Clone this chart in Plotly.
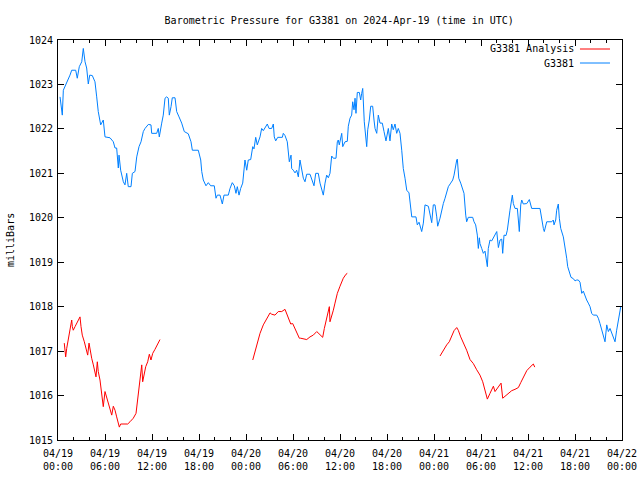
import pandas as pd
import plotly.graph_objects as go

# ---- data (hours after 2024-04-19 00:00 UTC, pressure in mb) ----
obs_hours = [0.26, 0.55, 0.68, 0.89, 1.24, 1.53, 1.75, 2.26, 2.46, 2.72, 3.03, 3.23, 3.45, 3.66, 3.87, 4.05,
             4.38, 4.72, 4.94, 5.14, 5.45, 5.66, 5.78, 6.0, 6.64, 7.06, 7.28, 7.49, 7.70, 7.79, 8.0, 8.34,
             8.55, 8.77, 8.97, 9.32, 9.49, 9.83, 10.05, 10.34, 10.60, 10.89, 11.11, 11.53, 11.87, 11.96,
             12.60, 12.80, 12.93, 13.24, 13.44, 13.66, 13.87, 14.08, 14.21, 14.43, 14.59, 14.94, 15.15,
             15.45, 15.79, 16.12, 16.63, 16.98, 17.15, 17.91, 18.22, 18.35, 18.55, 18.89, 19.19, 19.49,
             19.95, 20.17, 20.34, 20.68, 20.98, 21.19, 21.74, 21.96, 22.25, 22.51, 22.72, 22.89, 23.11,
             23.32, 23.58, 23.87, 24.09, 24.29, 24.60, 24.86, 25.02, 25.24, 25.44, 25.79, 26.0, 26.21,
             26.55, 26.72, 26.94, 27.28, 27.49, 27.61, 27.79, 28.05, 28.34, 28.64, 28.76, 28.98, 29.27,
             29.53, 29.75, 29.83, 30.04, 30.26, 30.47, 30.68, 30.89, 31.11, 31.32, 31.53, 31.75, 32.17,
             32.39, 32.68, 32.90, 33.23, 33.45, 33.66, 33.87, 34.09, 34.30, 34.51, 34.72, 34.94, 35.15,
             35.49, 35.66, 35.78, 35.91, 36.22, 36.35, 36.64, 36.93, 37.06, 37.28, 37.49, 37.62, 37.79,
             37.92, 38.04, 38.21, 38.47, 38.64, 38.77, 38.90, 39.10, 39.28, 39.41, 39.54, 39.74, 39.92,
             40.17, 40.34, 40.47, 40.69, 40.89, 41.11, 41.40, 41.62, 41.87, 42.17, 42.38, 42.60, 42.80,
             43.02, 43.24, 43.44, 43.66, 43.88, 44.08, 44.30, 44.52, 44.81, 45.03, 45.16, 45.70, 45.87,
             46.09, 46.21, 46.43, 46.64, 46.85, 47.28, 47.49, 47.71, 47.91, 48.13, 48.35, 48.47, 48.77,
             48.98, 49.19, 49.41, 49.62, 49.83, 50.13, 50.39, 50.56, 50.72, 50.90, 50.98, 51.16, 51.41,
             51.61, 51.83, 52.05, 52.17, 52.38, 52.94, 53.11, 53.32, 53.53, 53.66, 53.79, 53.87, 54.09,
             54.30, 54.51, 54.64, 54.81, 54.93, 55.15, 55.37, 55.58, 55.79, 56.01, 56.22, 56.43, 56.65,
             56.77, 56.94, 57.19, 57.36, 57.58, 57.70, 58.00, 58.13, 58.34, 58.64, 58.77, 58.89, 59.07,
             59.20, 59.40, 59.84, 60.17, 60.47, 61.53, 61.75, 61.96, 62.08, 62.39, 63.03, 63.23, 63.32,
             63.54, 63.66, 63.87, 64.00, 64.18, 64.51, 64.73, 64.94, 65.07, 65.28, 65.49, 65.79, 66.00,
             66.22, 66.42, 66.64, 66.86, 67.06, 67.28, 67.49, 67.70, 67.92, 68.13, 68.34, 68.77, 68.98,
             69.19, 69.41, 69.62, 69.83, 70.05, 70.26, 70.47, 70.68, 70.90, 71.11, 71.32, 71.53, 71.75, 71.84]
obs_mb = [1022.72, 1022.31, 1022.87, 1022.95, 1023.12, 1023.21, 1023.32, 1023.32, 1023.14, 1023.40, 1023.51,
          1023.81, 1023.51, 1023.37, 1023.01, 1023.21, 1023.20, 1023.06, 1022.72, 1022.39, 1022.09, 1022.15,
          1022.20, 1021.82, 1021.80, 1021.71, 1021.57, 1021.57, 1021.12, 1021.41, 1021.07, 1020.81, 1020.74,
          1021.0, 1020.70, 1020.70, 1021.0, 1021.04, 1021.37, 1021.60, 1021.71, 1021.94, 1022.01, 1022.10,
          1022.09, 1021.90, 1021.90, 1022.01, 1021.82, 1022.13, 1022.31, 1022.69, 1022.72, 1022.69, 1022.31,
          1022.50, 1022.70, 1022.70, 1022.39, 1022.27, 1022.13, 1021.94, 1021.89, 1021.71, 1021.52, 1021.52,
          1021.30, 1021.04, 1020.85, 1020.72, 1020.79, 1020.72, 1020.72, 1020.44, 1020.51, 1020.51, 1020.31,
          1020.51, 1020.51, 1020.66, 1020.79, 1020.72, 1020.55, 1020.70, 1020.51, 1020.66, 1020.78, 1021.30,
          1021.07, 1021.30, 1021.31, 1021.60, 1021.55, 1021.81, 1021.64, 1021.82, 1022.01, 1021.96, 1022.05,
          1022.11, 1022.01, 1022.01, 1022.11, 1021.82, 1021.73, 1021.81, 1021.81, 1021.81, 1021.90, 1021.85,
          1021.71, 1021.26, 1021.41, 1021.11, 1021.07, 1021.01, 1021.07, 1020.92, 1021.30, 1021.07, 1020.89,
          1020.81, 1020.98, 1020.98, 1020.85, 1020.72, 1021.00, 1021.00, 1020.78, 1020.66, 1020.51, 1020.78,
          1020.96, 1020.90, 1021.00, 1021.39, 1021.34, 1021.34, 1021.71, 1021.75, 1021.64, 1021.90, 1021.60,
          1021.71, 1021.72, 1022.06, 1022.24, 1022.31, 1022.61, 1022.43, 1022.69, 1022.35, 1022.82, 1022.82,
          1022.65, 1022.80, 1022.91, 1022.16, 1021.79, 1021.60, 1021.98, 1022.20, 1022.51, 1022.51, 1022.20,
          1022.01, 1021.90, 1022.31, 1022.13, 1022.13, 1021.94, 1021.73, 1022.01, 1021.73, 1022.11, 1021.98,
          1022.11, 1021.90, 1022.01, 1021.90, 1021.52, 1021.11, 1020.89, 1020.62, 1020.56, 1020.14, 1020.02,
          1020.02, 1019.84, 1019.90, 1019.80, 1019.69, 1019.88, 1020.29, 1020.26, 1020.10, 1019.89, 1020.29,
          1020.29, 1020.02, 1019.81, 1019.99, 1020.17, 1020.32, 1020.44, 1020.55, 1020.70, 1020.78, 1020.85,
          1020.96, 1021.15, 1021.30, 1021.32, 1020.89, 1020.78, 1020.66, 1020.55, 1020.06, 1019.91, 1020.01,
          1020.01, 1019.91, 1019.84, 1019.61, 1019.31, 1019.55, 1019.42, 1019.31, 1019.20, 1019.25, 1019.09,
          1018.90, 1019.31, 1019.50, 1019.48, 1019.54, 1019.61, 1019.69, 1019.33, 1019.50, 1019.52, 1019.20,
          1019.61, 1019.60, 1019.72, 1019.95, 1020.17, 1020.51, 1020.32, 1020.21, 1020.21, 1019.95, 1019.69,
          1020.29, 1020.40, 1020.31, 1020.32, 1020.41, 1020.21, 1020.21, 1019.95, 1019.76, 1019.69, 1019.91,
          1019.91, 1019.95, 1019.84, 1019.95, 1020.17, 1020.31, 1019.99, 1019.76, 1019.57, 1019.35, 1019.09,
          1018.90, 1018.75, 1018.66, 1018.63, 1018.58, 1018.60, 1018.60, 1018.55, 1018.30, 1018.35, 1018.22,
          1018.15, 1018.08, 1018.00, 1017.85, 1017.81, 1017.81, 1017.74, 1017.62, 1017.47, 1017.32, 1017.21,
          1017.59, 1017.44, 1017.51, 1017.40, 1017.29, 1017.21, 1017.47, 1017.66, 1017.92, 1018.00]

ana_hours = [0.80, 0.98, 1.11, 1.24, 1.40, 1.53, 1.75, 1.83, 1.95, 2.17, 2.39, 2.59, 2.81, 2.94, 3.10, 3.36,
             3.57, 3.79, 3.96, 4.09, 4.30, 4.51, 4.72, 4.85, 5.02, 5.14, 5.36, 5.58, 5.78, 6.00, 6.22, 6.42,
             6.64, 6.86, 7.06, 7.28, 7.49, 7.70, 7.83, 8.00, 8.90, 9.19, 9.61, 9.96, 10.17, 10.38, 10.56,
             10.69, 10.81, 10.98, 11.20, 11.45, 11.66, 11.87, 12.09, 12.38, 12.73, 13.02, 18.0,
             24.86, 25.15, 25.44, 25.79, 26.21, 26.64, 27.07, 27.28, 27.70, 28.12, 28.56, 28.98, 29.20,
             29.40, 29.71, 29.96, 30.26, 30.55, 30.81, 30.98, 31.32, 31.75, 32.17, 32.59, 33.03, 33.45,
             33.79, 34.00, 34.21, 34.51, 34.64, 34.72, 34.94, 35.15, 35.36, 35.66, 36.00, 36.42, 36.77, 36.93,
             42.0,
             48.77, 49.19, 49.62, 49.95, 50.26, 50.56, 50.90, 51.10, 51.41, 51.74, 52.17, 52.60, 53.02,
             53.45, 53.87, 54.22, 54.51, 54.81, 55.15, 55.49, 55.58, 55.79, 56.01, 56.22, 56.56, 56.77,
             57.07, 57.49, 57.92, 58.34, 58.77, 59.07, 59.40, 59.84, 60.26, 60.68, 60.86]
ana_mb = [1017.18, 1016.87, 1017.06, 1017.21, 1017.40, 1017.51, 1017.70, 1017.55, 1017.47, 1017.55, 1017.62,
          1017.70, 1017.77, 1017.55, 1017.36, 1017.21, 1017.06, 1016.91, 1017.18, 1017.02, 1016.84, 1016.69,
          1016.54, 1016.42, 1016.76, 1016.54, 1016.35, 1015.97, 1015.75, 1016.09, 1015.94, 1015.82, 1015.67,
          1015.56, 1015.76, 1015.67, 1015.52, 1015.37, 1015.29, 1015.36, 1015.36, 1015.41, 1015.49, 1015.60,
          1015.94, 1016.16, 1016.57, 1016.69, 1016.31, 1016.46, 1016.65, 1016.76, 1016.93, 1016.80, 1016.95,
          1017.04, 1017.15, 1017.26, None,
          1016.80, 1016.99, 1017.18, 1017.40, 1017.59, 1017.74, 1017.86, 1017.83, 1017.81, 1017.89, 1017.89,
          1017.94, 1017.85, 1017.74, 1017.61, 1017.62, 1017.51, 1017.38, 1017.29, 1017.29, 1017.28, 1017.26,
          1017.32, 1017.36, 1017.44, 1017.36, 1017.31, 1017.51, 1017.70, 1017.92, 1018.00, 1017.66, 1017.77,
          1017.92, 1018.08, 1018.30, 1018.46, 1018.64, 1018.73, 1018.75, None,
          1016.89, 1017.02, 1017.14, 1017.21, 1017.36, 1017.46, 1017.53, 1017.47, 1017.32, 1017.19, 1017.02,
          1016.81, 1016.72, 1016.58, 1016.46, 1016.31, 1016.12, 1015.92, 1016.05, 1016.16, 1016.21, 1016.09,
          1016.14, 1016.20, 1016.28, 1015.94, 1015.99, 1016.05, 1016.11, 1016.14, 1016.18, 1016.29, 1016.41,
          1016.56, 1016.64, 1016.71, 1016.64]

x_tick_hours = [0, 6, 12, 18, 24, 30, 36, 42, 48, 54, 60, 66, 72]
x_tick_text = ["04/19<br>00:00", "04/19<br>06:00", "04/19<br>12:00", "04/19<br>18:00",
               "04/20<br>00:00", "04/20<br>06:00", "04/20<br>12:00", "04/20<br>18:00",
               "04/21<br>00:00", "04/21<br>06:00", "04/21<br>12:00", "04/21<br>18:00",
               "04/22<br>00:00"]
y_ticks = [1015, 1016, 1017, 1018, 1019, 1020, 1021, 1022, 1023, 1024]

start = pd.Timestamp("2024-04-19 00:00")
def to_time(hours):
    return [start + pd.Timedelta(hours=h) for h in hours]

FONT = "DejaVu Sans Mono"
BLUE = "#0080ff"
RED = "#ff0000"

fig = go.Figure()
fig.add_trace(go.Scatter(x=to_time(ana_hours), y=ana_mb, mode="lines", name="G3381 Analysis",
                         line=dict(color=RED, width=1), connectgaps=False, showlegend=False))
fig.add_trace(go.Scatter(x=to_time(obs_hours), y=obs_mb, mode="lines", name="G3381",
                         line=dict(color=BLUE, width=1), showlegend=False))

axis_common = dict(showline=True, linecolor="black", linewidth=1, mirror="ticks", ticks="inside",
                   tickcolor="black", showgrid=False, zeroline=False, automargin=False,
                   tickfont=dict(family=FONT, size=10, color="black"))

fig.update_xaxes(range=[start, start + pd.Timedelta(hours=72)],
                 tickvals=to_time(x_tick_hours), ticktext=x_tick_text, ticklen=6,
                 ticklabelstandoff=4,
                 minor=dict(dtick=2 * 3600 * 1000, ticks="inside", ticklen=3, tickcolor="black"),
                 **axis_common)
fig.update_yaxes(range=[1015, 1024], tickvals=y_ticks, ticktext=[str(v) for v in y_ticks], ticklen=6,
                 ticklabelstandoff=2, **axis_common)

# gnuplot style key: text then line sample
legend_items = [("G3381 Analysis", RED, 0.9775), ("G3381", BLUE, 0.9425)]
for label, color, yp in legend_items:
    fig.add_annotation(xref="paper", yref="paper", x=0.918, y=yp, text=label, showarrow=False,
                       xanchor="right", yanchor="middle", font=dict(family=FONT, size=10, color="black"))
    fig.add_shape(type="line", xref="paper", yref="paper", x0=0.9255, x1=0.9787, y0=yp, y1=yp,
                  line=dict(color=color, width=1))

fig.add_annotation(xref="paper", yref="paper", x=0, xshift=-48, y=0.5, text="milliBars", textangle=-90,
                   showarrow=False, xanchor="center", yanchor="middle",
                   font=dict(family=FONT, size=10, color="black"))

fig.update_layout(
    width=640, height=480,
    margin=dict(l=58, r=18, t=40, b=40),
    paper_bgcolor="white", plot_bgcolor="white",
    title=dict(text="Barometric Pressure for G3381 on 2024-Apr-19 (time in UTC)", x=0.53, xanchor="center",
               y=0.958, yanchor="middle", font=dict(family=FONT, size=10, color="black")),
)

fig.write_html("out.html", config={"displayModeBar": False})

# remove the browser's default page margin so the 640x480 figure sits at the window origin
with open("out.html", "r", encoding="utf-8") as fh:
    html = fh.read()
html = html.replace("<head>", "<head><style>html,body{margin:0;padding:0;overflow:hidden;}</style>", 1)
with open("out.html", "w", encoding="utf-8") as fh:
    fh.write(html)
